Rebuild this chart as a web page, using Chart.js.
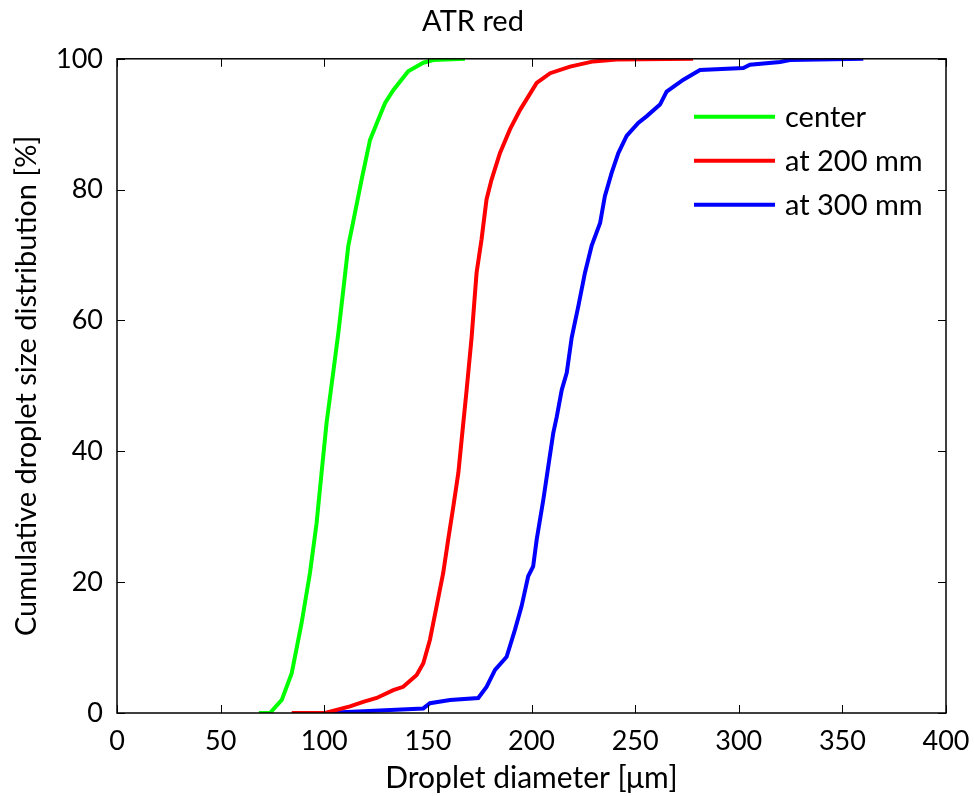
<!DOCTYPE html>
<html>
<head>
<meta charset="utf-8">
<script src="https://cdn.jsdelivr.net/npm/chart.js@4/dist/chart.umd.min.js"></script>
<style>
  html, body { margin: 0; padding: 0; background: #fff; }
  #wrap { width: 974px; height: 796px; }
</style>
</head>
<body>
<div id="wrap"><canvas id="cdf"></canvas></div>
<script>
// values (diameter in µm, cumulative %)
const centerX = [68.5, 73.8, 79.5, 84.3, 89.1, 93.1, 96.3, 98.7, 101.1, 104.3, 106.8, 109.2, 111.6, 114.8, 118, 122.1, 125.3, 129.3, 133.3, 140.5, 147.8, 152.6, 167.9];
const centerY = [0, 0, 2, 6.1, 13.8, 21.4, 29, 36.7, 44.3, 52, 58.1, 64.7, 71.4, 76.4, 81.5, 87.6, 90.1, 93.2, 95.2, 98.1, 99.4, 99.8, 100];

const at200X = [84.3, 100.4, 112.4, 118.8, 125.3, 133.3, 138.1, 144.6, 147.8, 151, 154.2, 157.4, 159.8, 162.3, 164.7, 166.3, 168.7, 171.1, 173.5, 175.9, 178.3, 180.7, 184.8, 189.6, 194.5, 202.5, 209, 218.6, 229.8, 241, 278];
const at200Y = [0, 0, 1, 1.7, 2.3, 3.5, 4, 5.8, 7.6, 11.2, 16.3, 21.4, 26.5, 31.6, 36.7, 41.8, 49.4, 57.4, 67.3, 72.4, 78.5, 81.5, 85.6, 89.2, 92.2, 96.3, 97.8, 98.8, 99.6, 99.9, 100];

const at300X = [100.4, 147.8, 151, 160.7, 174.3, 178.3, 182.4, 188, 192, 195.2, 198.4, 200.8, 202.5, 205.7, 208.1, 210.5, 212.2, 214.6, 217, 219.4, 222.6, 225.8, 229, 233.1, 235.4, 238.7, 241.9, 245.9, 251.5, 255.5, 262, 265.2, 273.3, 281.3, 302.2, 305.4, 319.9, 324.7, 360.1];
const at300Y = [0, 0.7, 1.5, 2, 2.3, 4, 6.6, 8.6, 12.7, 16.3, 20.9, 22.4, 26.5, 32.6, 37.7, 42.8, 45.3, 49.4, 52, 57.4, 62.2, 67.3, 71.4, 74.9, 79, 82.6, 85.6, 88.2, 90.2, 91.2, 93, 95, 96.8, 98.3, 98.6, 99.1, 99.5, 99.8, 100];

const seriesNames = ['center', 'at 200 mm', 'at 300 mm'];
const seriesColors = ['#00ff00', '#ff0000', '#0000ff'];
const xTicks = [0, 50, 100, 150, 200, 250, 300, 350, 400];
const yTicks = [0, 20, 40, 60, 80, 100];

const FONT = 'Lato, "Open Sans", sans-serif';

const toPoints = (xs, ys) => xs.map((x, i) => ({ x: x, y: ys[i] }));

// box round the plot with inward ticks on every side, plus the legend
const boxPlugin = {
  id: 'box',
  afterDatasetsDraw(chart) {
    const { ctx, chartArea: a, scales } = chart;
    ctx.save();
    ctx.strokeStyle = '#000';
    ctx.lineWidth = 1.5;
    ctx.strokeRect(a.left, a.top, a.right - a.left, a.bottom - a.top);
    ctx.lineWidth = 1;
    const len = 8;
    xTicks.forEach(v => {
      const px = Math.round(scales.x.getPixelForValue(v)) + 0.5;
      ctx.beginPath();
      ctx.moveTo(px, a.bottom); ctx.lineTo(px, a.bottom - len);
      ctx.moveTo(px, a.top); ctx.lineTo(px, a.top + len);
      ctx.stroke();
    });
    yTicks.forEach(v => {
      const py = Math.round(scales.y.getPixelForValue(v)) + 0.5;
      ctx.beginPath();
      ctx.moveTo(a.left, py); ctx.lineTo(a.left + len, py);
      ctx.moveTo(a.right, py); ctx.lineTo(a.right - len, py);
      ctx.stroke();
    });

    // legend, top right inside the axes
    ctx.font = '29px ' + FONT;
    ctx.textBaseline = 'middle';
    ctx.fillStyle = '#000';
    seriesNames.forEach((name, i) => {
      const y = a.top + 58 + i * 44;
      ctx.strokeStyle = seriesColors[i];
      ctx.lineWidth = 4;
      ctx.beginPath();
      ctx.moveTo(694, y); ctx.lineTo(775, y);
      ctx.stroke();
      ctx.fillText(name, 785, y + 1);
    });
    ctx.restore();
  }
};

new Chart(document.getElementById('cdf'), {
  type: 'line',
  data: {
    datasets: [
      { label: seriesNames[0], data: toPoints(centerX, centerY) },
      { label: seriesNames[1], data: toPoints(at200X, at200Y) },
      { label: seriesNames[2], data: toPoints(at300X, at300Y) }
    ].map((d, i) => Object.assign(d, {
      borderColor: seriesColors[i],
      backgroundColor: seriesColors[i],
      borderWidth: 4,
      pointRadius: 0,
      tension: 0,
      fill: false
    }))
  },
  options: {
    responsive: true,
    maintainAspectRatio: false,
    animation: false,
    layout: { padding: { left: 0, right: 28, top: 0, bottom: 0 } },
    plugins: {
      legend: { display: false },
      tooltip: { enabled: false },
      title: {
        display: true,
        text: 'ATR red',
        color: '#000',
        font: { family: FONT, size: 29, weight: 'normal' },
        padding: { top: 4, bottom: 20 }
      }
    },
    scales: {
      x: {
        type: 'linear',
        min: 0,
        max: 400,
        afterFit: s => { s.height = 83; s.paddingLeft = 0; s.paddingRight = 0; },
        afterBuildTicks: s => { s.ticks = xTicks.map(v => ({ value: v })); },
        grid: { display: false, drawTicks: false },
        border: { display: false },
        ticks: { color: '#000', padding: 12, maxRotation: 0, font: { family: FONT, size: 27 } },
        title: {
          display: true,
          text: 'Droplet diameter [μm]',
          color: '#000',
          font: { family: FONT, size: 30 },
          padding: { top: 0, bottom: 0 }
        }
      },
      y: {
        type: 'linear',
        min: 0,
        max: 100,
        afterFit: s => { s.width = 117; },
        afterBuildTicks: s => { s.ticks = yTicks.map(v => ({ value: v })); },
        grid: { display: false, drawTicks: false },
        border: { display: false },
        ticks: { color: '#000', padding: 14, font: { family: FONT, size: 27 } },
        title: {
          display: true,
          text: 'Cumulative droplet size distribution [%]',
          color: '#000',
          font: { family: FONT, size: 29 },
          padding: { top: 9, bottom: 0 }
        }
      }
    }
  },
  plugins: [boxPlugin]
});
</script>
</body>
</html>
